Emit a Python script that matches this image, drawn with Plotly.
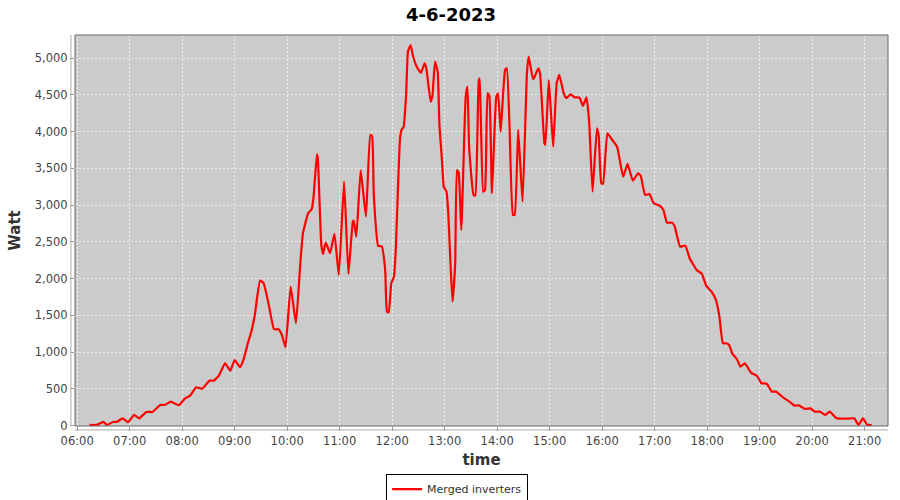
import plotly.graph_objects as go

# readings of the merged inverters, 4-6-2023 (time of day, watt)
times = [
    "06:14", "06:22", "06:30", "06:34", "06:41", "06:45", "06:52", "06:58",
    "07:05", "07:11", "07:19", "07:26", "07:35", "07:40", "07:47", "07:56",
    "08:03", "08:09", "08:16", "08:23", "08:31", "08:36", "08:42", "08:49",
    "08:55", "09:00", "09:06", "09:10", "09:15", "09:19", "09:23", "09:29",
    "09:33", "09:39", "09:45", "09:50", "09:54", "09:58", "10:04", "10:10",
    "10:15", "10:18", "10:24", "10:28", "10:30", "10:34", "10:35", "10:39",
    "10:41", "10:44", "10:49", "10:54", "10:59", "11:05", "11:10", "11:15",
    "11:16", "11:19", "11:24", "11:30", "11:35", "11:37", "11:39", "11:44",
    "11:48", "11:52", "11:54", "11:56", "11:59", "12:02", "12:04", "12:09",
    "12:11", "12:13", "12:16", "12:18", "12:21", "12:24", "12:29", "12:33",
    "12:37", "12:39", "12:44", "12:46", "12:49", "12:52", "12:54", "12:57",
    "12:59", "13:02", "13:04", "13:07", "13:09", "13:12", "13:14", "13:16",
    "13:19", "13:24", "13:26", "13:28", "13:33", "13:35", "13:39", "13:40",
    "13:44", "13:46", "13:49", "13:51", "13:54", "13:59", "14:01", "14:04",
    "14:09", "14:11", "14:14", "14:18", "14:20", "14:24", "14:29", "14:34",
    "14:36", "14:41", "14:43", "14:47", "14:49", "14:54", "14:55", "14:59",
    "15:04", "15:08", "15:11", "15:16", "15:19", "15:24", "15:28", "15:34",
    "15:38", "15:42", "15:45", "15:49", "15:54", "15:56", "15:59", "16:01",
    "16:06", "16:11", "16:17", "16:24", "16:29", "16:35", "16:41", "16:44",
    "16:49", "16:54", "16:59", "17:06", "17:10", "17:14", "17:20", "17:23",
    "17:29", "17:35", "17:40", "17:48", "17:54", "17:59", "18:05", "18:10",
    "18:14", "18:18", "18:22", "18:25", "18:29", "18:34", "18:38", "18:43",
    "18:50", "18:57", "19:02", "19:08", "19:14", "19:19", "19:27", "19:34",
    "19:40", "19:45", "19:52", "19:58", "20:03", "20:09", "20:15", "20:20",
    "20:28", "20:36", "20:41", "20:48", "20:53", "20:58", "21:02", "21:04",
    "21:08",
]
watt = [
    10, 10, 50, 10, 50, 50, 100, 45,
    145, 100, 186, 186, 281, 281, 327, 277,
    367, 408, 522, 503, 612, 612, 680, 848,
    748, 893, 794, 893, 1120, 1278, 1505, 1972,
    1937, 1641, 1311, 1311, 1233, 1066, 1890, 1392,
    2208, 2617, 2889, 2943, 3093, 3691, 3637, 2458,
    2335, 2489, 2345, 2607, 2050, 3318, 2063, 2774,
    2788, 2570, 3477, 2842, 3953, 3940, 3137, 2444,
    2440, 2117, 1550, 1540, 1937, 2026, 2366, 3909,
    4031, 4058, 4521, 5086, 5177, 5018, 4861, 4801,
    4929, 4861, 4406, 4487, 4952, 4815, 4090, 3590,
    3250, 3182, 2910, 2117, 1686, 2208, 3477, 3440,
    2661, 4474, 4610, 3772, 3137, 3130, 4701, 4720,
    3182, 3200, 4521, 4487, 3160, 4474, 4520, 3999,
    4838, 4860, 4113, 2866, 2866, 4022, 3046, 4793,
    5018, 4711, 4750, 4861, 4790, 3840, 3820, 4701,
    3794, 4656, 4770, 4521, 4453, 4507, 4466, 4460,
    4348, 4466, 4158, 3182, 4045, 3950, 3297, 3290,
    3977, 3895, 3794, 3386, 3559, 3332, 3432, 3400,
    3138, 3150, 3025, 2988, 2933, 2761, 2761, 2706,
    2434, 2448, 2277, 2117, 2063, 1900, 1822, 1710,
    1482, 1120, 1120, 1097, 975, 903, 802, 848,
    721, 676, 577, 570, 462, 462, 381, 327,
    272, 275, 227, 235, 190, 190, 146, 190,
    100, 95, 95, 100, 10, 100, 23, 10,
    5,
]

day = "2023-06-04"
x = [f"{day} {t}" for t in times]

fig = go.Figure()
fig.add_trace(go.Scatter(
    x=x,
    y=watt,
    mode='lines',
    name='Merged inverters',
    line=dict(color='#ff0000', width=2.2, shape='spline', smoothing=0.4),
))

grid = dict(showgrid=True, gridcolor='#eeeeee', gridwidth=1, griddash='2px,2px',
            zeroline=False, ticks='outside', ticklen=4, tickcolor='#999999',
            tickfont=dict(size=11.5, color='#444444'), automargin=False)

fig.update_layout(
    width=900,
    height=500,
    font=dict(family='DejaVu Sans', color='#444444'),
    paper_bgcolor='white',
    plot_bgcolor='#cbcbcb',
    title=dict(text='<b>4-6-2023</b>', x=451 / 900, xref='container', xanchor='center',
               y=1 - 15 / 500, yanchor='middle', font=dict(size=18, color='black'),
               automargin=False),
    xaxis=dict(
        range=[f"{day} 05:57:30", f"{day} 21:26:40"],
        type='date',
        tickformat='%H:%M',
        dtick=3600000,
        tick0=f"{day} 06:00",
        title=dict(text='<b>time</b>', font=dict(size=15, color='#333333'), standoff=7),
        **grid,
    ),
    yaxis=dict(
        range=[-5, 5313],
        tickvals=[0, 500, 1000, 1500, 2000, 2500, 3000, 3500, 4000, 4500, 5000],
        tickformat=',d',
        title=dict(text='<b>Watt</b>', font=dict(size=15, color='#333333'), standoff=10),
        **grid,
    ),
    showlegend=True,
    legend=dict(
        orientation='h',
        x=0.47,
        xanchor='center',
        y=-0.122,
        yanchor='top',
        bordercolor='black',
        borderwidth=1,
        bgcolor='white',
        font=dict(size=11, color='#333333'),
        itemwidth=30,
    ),
    margin=dict(l=75, r=12, t=35, b=74, autoexpand=False),
)

# plot outline and the offset axis lines
fig.add_shape(type='rect', xref='paper', yref='paper', x0=0, x1=1, y0=0, y1=1,
              line=dict(color='#666666', width=1), layer='above')
fig.add_shape(type='line', xref='paper', yref='paper', x0=-0.005, x1=-0.005, y0=0, y1=1,
              line=dict(color='#aaaaaa', width=1))
fig.add_shape(type='line', xref='paper', yref='paper', x0=0, x1=1, y0=-0.01, y1=-0.01,
              line=dict(color='#aaaaaa', width=1))

# drop the default 8px page margin so the figure sits at the window corner
fig.write_html("out.html", config={'displayModeBar': False},
               post_script="document.body.style.margin='0';")
